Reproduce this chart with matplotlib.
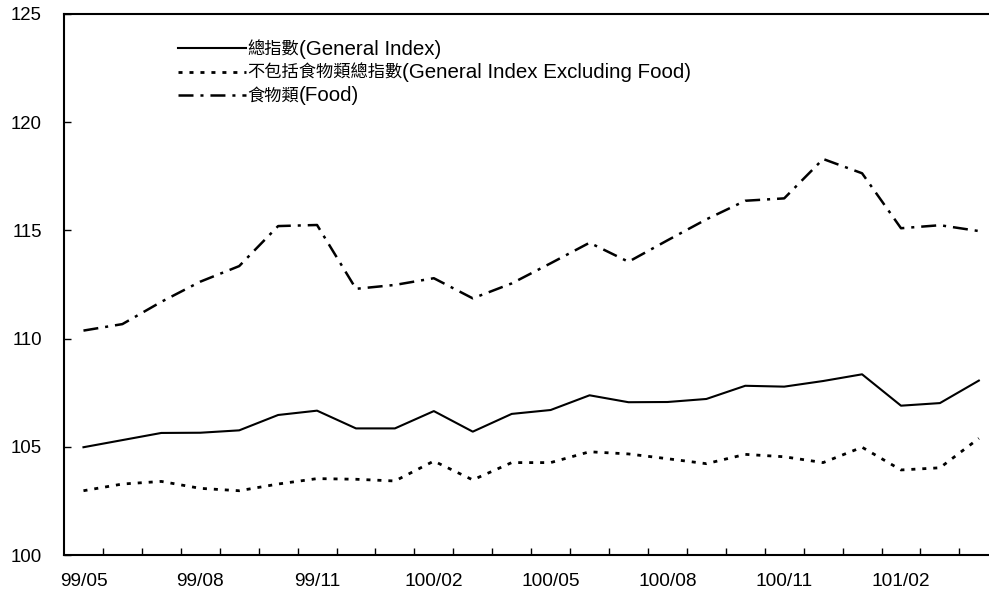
import matplotlib
matplotlib.use("Agg")
import matplotlib.pyplot as plt
from matplotlib.ticker import MultipleLocator, FixedLocator

plt.rcParams['font.family'] = ['Liberation Sans', 'Noto Sans CJK TC', 'DejaVu Sans']
plt.rcParams['lines.scale_dashes'] = False

months = ["99/05", "99/06", "99/07", "99/08", "99/09", "99/10", "99/11", "99/12",
          "100/01", "100/02", "100/03", "100/04", "100/05", "100/06", "100/07",
          "100/08", "100/09", "100/10", "100/11", "100/12", "101/01", "101/02",
          "101/03", "101/04"]
general = [104.98, 105.31, 105.64, 105.65, 105.76, 106.47, 106.67, 105.85,
           105.85, 106.65, 105.70, 106.52, 106.70, 107.38, 107.06, 107.07,
           107.21, 107.82, 107.78, 108.04, 108.35, 106.90, 107.02, 108.06]
excl_food = [102.97, 103.28, 103.40, 103.08, 102.97, 103.28, 103.53, 103.50,
             103.42, 104.34, 103.47, 104.27, 104.27, 104.77, 104.67, 104.45,
             104.22, 104.65, 104.54, 104.27, 104.98, 103.93, 104.03, 105.39]
food = [110.37, 110.67, 111.70, 112.63, 113.35, 115.20, 115.25, 112.30,
        112.48, 112.79, 111.86, 112.55, 113.48, 114.43, 113.55, 114.54,
        115.51, 116.37, 116.48, 118.30, 117.64, 115.10, 115.24, 114.97]
labels_zh = ["總指數", "不包括食物類總指數", "食物類"]
labels_en = ["(General Index)", "(General Index Excluding Food)", "(Food)"]

fig = plt.figure(figsize=(9.89, 5.99), dpi=100)
W, H = 989, 599
left, right, top, bottom = 64, 64 + 24 * 38.93, 14, 555
ax = fig.add_axes([left / W, 1 - bottom / H, (right - left) / W, (bottom - top) / H])

x = list(range(len(months)))
ax.plot(x, general, color='black', lw=1.5, linestyle='-', label=labels_zh[0])
ax.plot(x, excl_food, color='black', lw=2.0, linestyle=(0, (2.9, 5.0)), label=labels_zh[1])
ax.plot(x, food, color='black', lw=1.8, linestyle=(0, (10.8, 5.0, 2.2, 5.0)), label=labels_zh[2])

ax.set_xlim(-0.5, len(months) - 0.5)
ax.set_ylim(100, 125)
ax.yaxis.set_major_locator(MultipleLocator(5))

ax.set_xticks(x[::3])
ax.set_xticklabels(months[::3])
ax.xaxis.set_minor_locator(FixedLocator([i + 0.5 for i in range(len(months) - 1)]))
ax.tick_params(axis='x', which='major', length=0, pad=13, labelsize=13.8)
ax.tick_params(axis='x', which='minor', direction='in', length=5, width=1)
ax.tick_params(axis='y', which='major', direction='in', length=5, width=1, pad=16, labelsize=13.4)

for s in ['left', 'bottom', 'top']:
    ax.spines[s].set_linewidth(1.5)
ax.spines['right'].set_visible(False)

leg = ax.legend(loc='upper left', bbox_to_anchor=(0.122, 0.951), frameon=False,
                prop={'family': ['Noto Sans CJK TC'], 'size': 12.4},
                handlelength=3.95, handletextpad=0.05,
                labelspacing=0.3, borderaxespad=0, borderpad=0)
fig.canvas.draw()
for t, en in zip(leg.get_texts(), labels_en):
    ax.annotate(en, xy=(1, 0.5), xycoords=t, xytext=(0, 0), textcoords='offset points',
                ha='left', va='center', fontsize=14.8, family=['Liberation Sans'])

fig.savefig("out.png", dpi=100)
